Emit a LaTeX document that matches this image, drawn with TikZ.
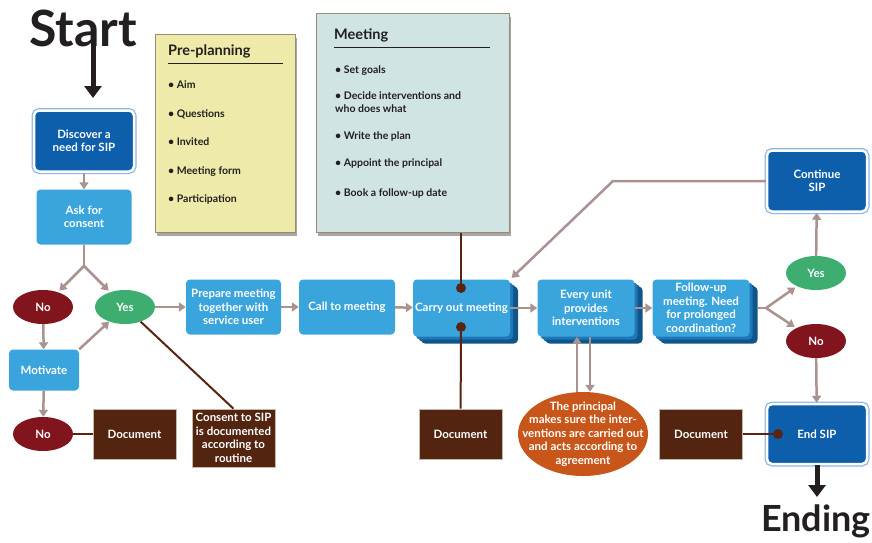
\documentclass[tikz,border=0pt]{standalone}
\usepackage{fontspec}
\setmainfont{Lato}
\usetikzlibrary{shapes.geometric,arrows.meta,shadows}

\definecolor{sipblue}{HTML}{0D5EAB}
\definecolor{sipframe}{HTML}{8DB6E0}
\definecolor{steplight}{HTML}{3AA5DD}
\definecolor{stepmid}{HTML}{1E78B8}
\definecolor{stepdark}{HTML}{0F5588}
\definecolor{nored}{HTML}{82141E}
\definecolor{yesgreen}{HTML}{3DAE6F}
\definecolor{docbrown}{HTML}{532510}
\definecolor{princorange}{HTML}{C8561B}
\definecolor{arrowgray}{HTML}{A9928F}
\definecolor{linkbrown}{HTML}{5A2412}
\definecolor{preyellow}{HTML}{EEEBAA}
\definecolor{meetblue}{HTML}{D0E4E4}
\definecolor{noteframe}{HTML}{9C8A72}
\definecolor{headblack}{HTML}{231F20}

\begin{document}
\begin{tikzpicture}[x=1pt, y=-1pt,
    every node/.style={font=\bfseries\fontsize{11.5}{13.5}\selectfont, text=white, align=center, inner sep=1pt},
    stepbox/.style={rectangle, rounded corners=4pt, fill=steplight},
    deepbox/.style={stepbox, minimum width=97pt, minimum height=57pt,
        copy shadow={shadow xshift=8pt, shadow yshift=-7pt, fill=stepdark, draw=none},
        copy shadow={shadow xshift=5.5pt, shadow yshift=-5pt, fill=stepdark, draw=none},
        copy shadow={shadow xshift=3pt, shadow yshift=-3pt, fill=stepmid, draw=none}},
    sipbox/.style={rectangle, rounded corners=5pt, fill=sipblue, draw=white, line width=2.5pt,
        preaction={draw=sipframe, line width=5pt}, minimum width=100pt, minimum height=61pt},
    nobubble/.style={ellipse, fill=nored, minimum width=60pt, minimum height=34pt},
    yesbubble/.style={ellipse, fill=yesgreen, minimum width=60pt, minimum height=34pt},
    docbox/.style={rectangle, fill=docbrown, draw=noteframe!60, line width=0.6pt, minimum width=83pt, minimum height=50pt},
    dot/.style={circle, fill=linkbrown, minimum size=10pt, inner sep=0pt},
    note/.style={rectangle, draw=noteframe, line width=1pt,
        drop shadow={shadow xshift=2pt, shadow yshift=-4pt, opacity=0.35, fill=black}},
    notetitle/.style={anchor=west, text=headblack, font=\bfseries\fontsize{14.5}{16}\selectfont},
    items/.style={anchor=north west, align=left, inner sep=0pt, text=headblack},
    headline/.style={text=headblack, inner sep=0pt},
    arr/.style={draw=arrowgray, line width=2.5pt, -{Triangle[length=7pt, width=9pt]}},
    arrline/.style={draw=arrowgray, line width=2.5pt},
    link/.style={draw=linkbrown, line width=2pt},
    bigarrow/.style={draw=headblack, line width=5pt, -{Triangle[length=12pt, width=17pt]}}]

    \useasboundingbox (0,0) rectangle (872,542);

    % Notes
    \node[note, fill=preyellow, minimum width=140pt, minimum height=198pt] (pre) at (225,133) {};
    \node[notetitle] (pretitle) at (167,51) {Pre-planning};
    \draw[line width=1pt, headblack] (168,63) -- (283,63);
    \node[items, font=\bfseries\fontsize{10.5}{14}\selectfont] (preitems) at (168,81)
        {\textbullet\ Aim\\[14.4pt] \textbullet\ Questions\\[14.4pt] \textbullet\ Invited\\[14.4pt]
         \textbullet\ Meeting form\\[14.4pt] \textbullet\ Participation};

    \node[note, fill=meetblue, minimum width=193pt, minimum height=219pt] (meet) at (412.5,122.5) {};
    \node[notetitle] (meettitle) at (333,35) {Meeting};
    \draw[line width=1pt, headblack] (334,47) -- (490,47);
    \node[items, font=\bfseries\fontsize{10.5}{13.5}\selectfont] (meetitems) at (335,65)
        {\textbullet\ Set goals\\[12.5pt] \textbullet\ Decide interventions and\\who does what\\[13.5pt]
         \textbullet\ Write the plan\\[13.5pt] \textbullet\ Appoint the principal\\[16pt]
         \textbullet\ Book a follow-up date};

    % Start and first steps
    \node[headline, font=\bfseries\fontsize{50}{50}\selectfont] (start) at (83,28) {Start};
    \coordinate (s0) at (93,34);
    \coordinate (s1) at (93,98);
    \node[sipbox] (disc) at (84,141) {Discover a\\need for SIP};
    \node[stepbox, minimum width=95pt, minimum height=55pt] (ask) at (84,217) {Ask for\\consent};
    \coordinate (split) at (84,266);
    \node[nobubble] (no1) at (43,307) {No};
    \node[yesbubble] (yes1) at (125,307) {Yes};
    \node[stepbox, minimum width=70pt, minimum height=41pt] (motiv) at (44,370) {Motivate};
    \node[nobubble] (no2) at (43,434) {No};
    \node[docbox] (doc1) at (134.5,434) {Document};
    \node[docbox, minimum height=58pt] (cons) at (233.5,438) {Consent to SIP\\is documented\\according to\\routine};

    % Main row
    \node[stepbox, minimum width=95pt, minimum height=55pt] (prep) at (233.5,307) {Prepare meeting\\together with\\service user};
    \node[stepbox, minimum width=96pt, minimum height=55pt] (call) at (347,307) {Call to meeting};
    \node[deepbox] (carry) at (461.5,308) {Carry out meeting};
    \node[deepbox] (every) at (586,308) {Every unit\\provides\\interventions};
    \node[deepbox] (follow) at (701,308) {Follow-up\\meeting. Need\\for prolonged\\coordination?};
    \coordinate (br) at (766,308);
    \node[yesbubble] (yes2) at (816,273) {Yes};
    \node[nobubble] (no3) at (816,341) {No};
    \node[sipbox] (cont) at (817,181) {Continue\\SIP};
    \coordinate (bend) at (613,181);
    \node[sipbox, minimum height=60pt] (endsip) at (817,434) {End SIP};
    \node[headline, font=\bfseries\fontsize{36}{36}\selectfont] (ending) at (816,521) {Ending};
    \coordinate (e1) at (817,497);

    % Lower row
    \node[dot] (dot1) at (461,288) {};
    \node[dot] (dot2) at (461,327) {};
    \node[docbox] (doc2) at (460.5,434) {Document};
    \node[ellipse, fill=princorange, minimum width=130pt, minimum height=84pt, inner xsep=-15pt, inner ysep=-5pt] (princ) at (583,434)
        {The principal\\makes sure the inter-\\ventions are carried out\\and acts according to\\agreement};
    \node[docbox] (doc3) at (701,434) {Document};
    \node[dot] (dot3) at (778,434) {};

    % Arrows
    \draw[bigarrow] (s0) -- (s1);
    \draw[arr] (disc) -- (ask);
    \draw[arrline] (ask) -- (split);
    \draw[arr, shorten >=2pt] (split) -- (no1);
    \draw[arr, shorten >=2pt] (split) -- (yes1);
    \draw[arr] (no1) -- (motiv);
    \draw[arr] (motiv.north east) -- (yes1);
    \draw[arr] (motiv) -- (no2);
    \draw[link] (no2) -- (doc1);
    \draw[link] (yes1) -- (cons.north);
    \draw[arr] (yes1) -- (prep);
    \draw[arr] (prep) -- (call);
    \draw[arr] (call) -- (carry);
    \draw[arr] (carry) -- (every);
    \draw[arr] (every) -- (follow);
    \draw[arrline] ([xshift=8pt]follow.east) -- (br);
    \draw[arr, shorten >=2pt] (br) -- (yes2);
    \draw[arr, shorten >=2pt] (br) -- (no3);
    \draw[arr] (yes2) -- (cont);
    \draw[arr] (no3) -- (endsip);
    \draw[arr, shorten >=2pt] (cont.west) -- (bend) -- (carry.north east);
    \draw[link] (meet.south -| dot1) -- (dot1);
    \draw[link] (dot2) -- (doc2);
    \draw[arr] ([xshift=-6pt]princ.north) -- ([xshift=-6pt]princ.north |- every.south);
    \draw[arr] ([xshift=7pt]princ.north |- every.south) -- ([xshift=7pt]princ.north);
    \draw[link] (doc3) -- (dot3);
    \draw[bigarrow] (endsip) -- (e1);
\end{tikzpicture}
\end{document}
